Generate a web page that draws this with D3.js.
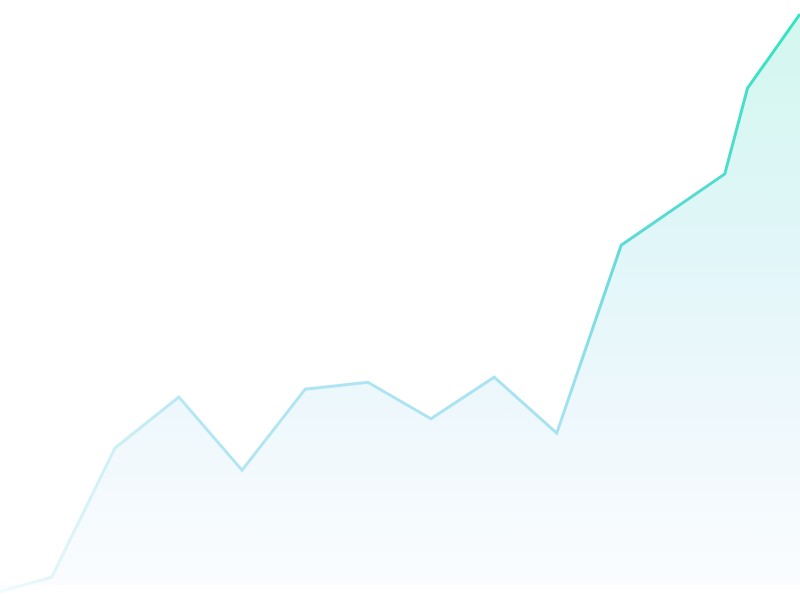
<!DOCTYPE html>
<html lang="en">
<head>
    <meta charset="UTF-8">
    <script src="https://d3js.org/d3.v7.min.js"></script>
    <title>Area</title>
    <style>
        html, body { margin: 0; padding: 0; background: #fff; overflow: hidden; }
    </style>
</head>
<body>
    <script>
        // x positions (period index) and values
        var periods = [0, 0.82, 1.82, 2.83, 3.83, 4.83, 5.82, 6.82, 7.82, 8.81, 9.83, 11.47, 11.83, 12.66]
        var values = [-1.2, 1.4, 24, 32.9, 20.1, 34.3, 35.5, 29.1, 36.4, 26.6, 59.5, 72, 87, 100]

        var width = 800, height = 600

        var data = periods.map(function (p, i) { return { x: p, y: values[i] } })

        var x = d3.scaleLinear().domain([0, 12.66]).range([0, width])
        var y = d3.scaleLinear().domain([0, 100]).range([585, 14])

        var svg = d3.select("body")
            .append("svg")
            .attr("width", width)
            .attr("height", height)

        var defs = svg.append("defs")

        var fillGrad = defs.append("linearGradient")
            .attr("id", "fillGrad")
            .attr("gradientUnits", "userSpaceOnUse")
            .attr("x1", 0).attr("y1", 0).attr("x2", 0).attr("y2", 585)
        fillGrad.selectAll("stop")
            .data([
                { o: 0, c: "#d2f7ee" },
                { o: 0.4, c: "#e0f6f8" },
                { o: 0.7, c: "#eef8fc" },
                { o: 1, c: "#fafcff" }
            ])
            .join("stop")
            .attr("offset", function (d) { return d.o })
            .attr("stop-color", function (d) { return d.c })

        var lineGrad = defs.append("linearGradient")
            .attr("id", "lineGrad")
            .attr("gradientUnits", "userSpaceOnUse")
            .attr("x1", 0).attr("y1", 0).attr("x2", width).attr("y2", 0)
        lineGrad.selectAll("stop")
            .data([
                { o: 0, c: "#f2fbfd" },
                { o: 0.1, c: "#d8f3f7" },
                { o: 0.25, c: "#b2e6f2" },
                { o: 0.7, c: "#a8e2f1" },
                { o: 0.78, c: "#5fdad7" },
                { o: 0.9, c: "#50dccd" },
                { o: 1, c: "#2ee6bc" }
            ])
            .join("stop")
            .attr("offset", function (d) { return d.o })
            .attr("stop-color", function (d) { return d.c })

        var area = d3.area()
            .x(function (d) { return x(d.x) })
            .y0(y(0))
            .y1(function (d) { return y(d.y) })

        var line = d3.line()
            .x(function (d) { return x(d.x) })
            .y(function (d) { return y(d.y) })

        svg.append("path")
            .datum(data)
            .attr("d", area)
            .attr("fill", "url(#fillGrad)")

        svg.append("path")
            .datum(data)
            .attr("d", line)
            .attr("fill", "none")
            .attr("stroke", "url(#lineGrad)")
            .attr("stroke-width", 3)
            .attr("stroke-linejoin", "miter")
    </script>
</body>
</html>
